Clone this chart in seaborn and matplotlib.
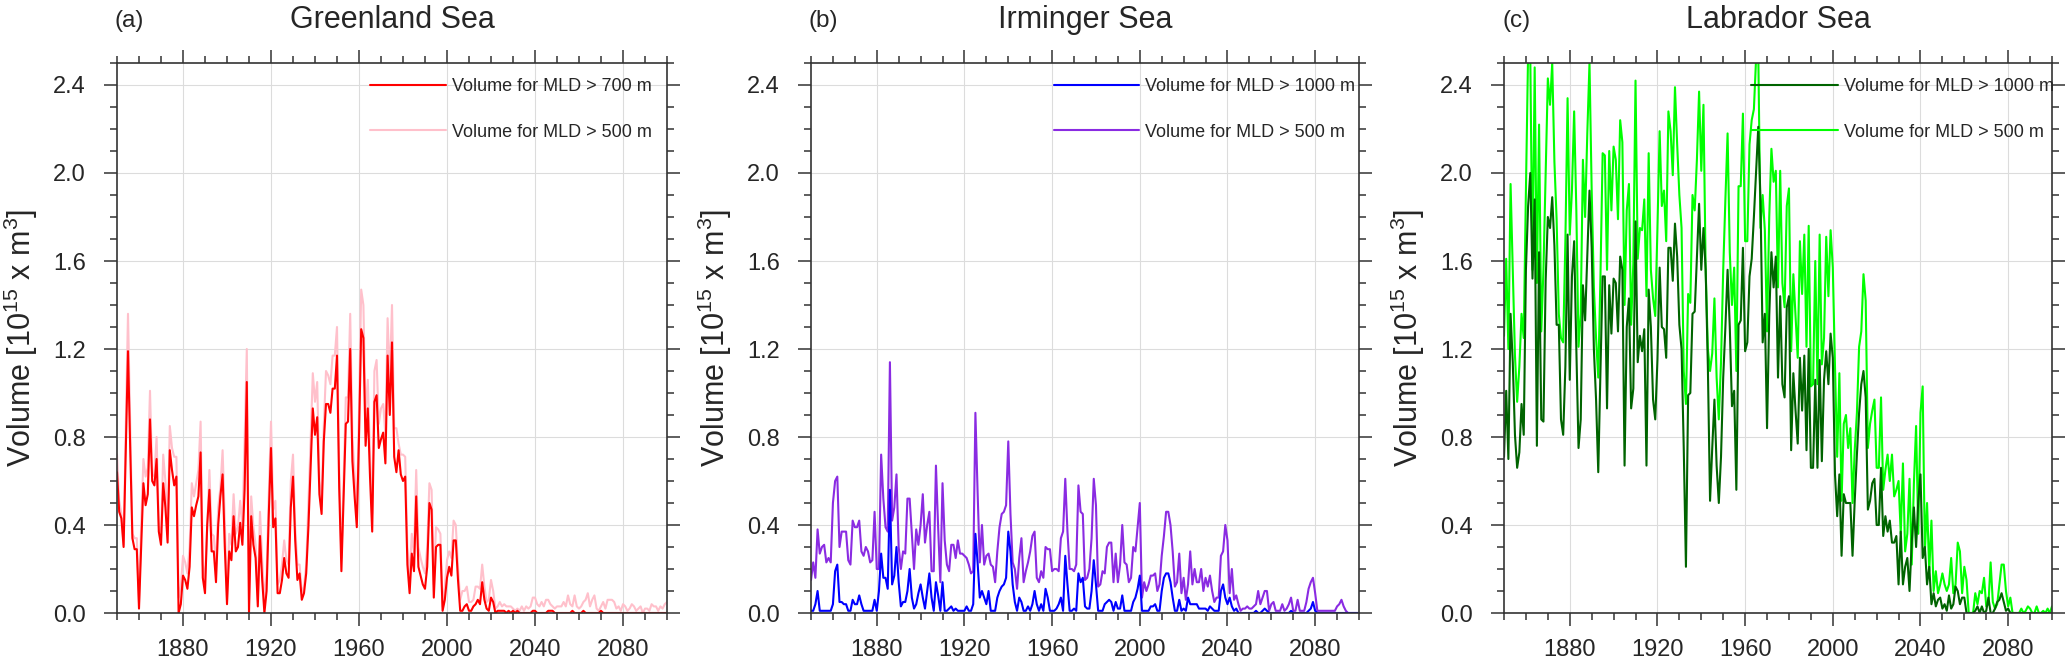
import numpy as np
import matplotlib
matplotlib.use("Agg")
import matplotlib.pyplot as plt
import seaborn as sns
from matplotlib.ticker import MultipleLocator, FormatStrFormatter

years = np.arange(1850, 2101)

# Greenland Sea, volume for MLD > 700 m and > 500 m (10^15 m^3)
greenland_700 = [
    0.64, 0.46, 0.43, 0.30, 0.75, 1.19, 0.75, 0.34, 0.29, 0.29,
    0.02, 0.30, 0.59, 0.49, 0.54, 0.88, 0.60, 0.58, 0.70, 0.37,
    0.31, 0.59, 0.48, 0.32, 0.74, 0.65, 0.58, 0.62, 0.00, 0.04,
    0.17, 0.15, 0.11, 0.21, 0.48, 0.44, 0.49, 0.53, 0.73, 0.16,
    0.09, 0.40, 0.56, 0.28, 0.28, 0.14, 0.40, 0.53, 0.63, 0.30,
    0.04, 0.28, 0.24, 0.44, 0.28, 0.30, 0.41, 0.31, 0.56, 1.05,
    0.00, 0.44, 0.31, 0.25, 0.03, 0.35, 0.15, 0.00, 0.10, 0.45,
    0.75, 0.39, 0.43, 0.09, 0.09, 0.15, 0.25, 0.18, 0.16, 0.48,
    0.62, 0.33, 0.15, 0.18, 0.06, 0.09, 0.18, 0.39, 0.66, 0.93,
    0.81, 0.89, 0.54, 0.45, 0.78, 0.95, 0.95, 0.91, 1.02, 1.02,
    1.17, 0.57, 0.19, 0.53, 0.86, 0.87, 1.20, 0.69, 0.53, 0.39,
    0.80, 1.29, 1.25, 0.76, 0.93, 0.62, 0.37, 0.96, 0.99, 0.75,
    0.79, 0.82, 0.68, 1.17, 0.90, 1.23, 0.71, 0.64, 0.74, 0.63,
    0.60, 0.62, 0.22, 0.09, 0.27, 0.19, 0.53, 0.21, 0.17, 0.13,
    0.11, 0.21, 0.50, 0.47, 0.07, 0.30, 0.31, 0.31, 0.01, 0.06,
    0.16, 0.21, 0.17, 0.33, 0.33, 0.15, 0.01, 0.01, 0.03, 0.04,
    0.01, 0.01, 0.03, 0.04, 0.06, 0.04, 0.14, 0.06, 0.02, 0.01,
    0.07, 0.05, 0.00, 0.01, 0.01, 0.01, 0.01, 0.00, 0.01, 0.00,
    0.01, 0.00, 0.01, 0.00, 0.00, 0.00, 0.00, 0.00, 0.00, 0.01,
    0.01, 0.00, 0.00, 0.00, 0.00, 0.00, 0.01, 0.01, 0.01, 0.00,
    0.00, 0.00, 0.00, 0.00, 0.00, 0.00, 0.00, 0.01, 0.00, 0.00,
    0.00, 0.00, 0.01, 0.00, 0.00, 0.00, 0.00, 0.00, 0.00, 0.00,
    0.01, 0.00, 0.00, 0.00, 0.00, 0.00, 0.00, 0.00, 0.00, 0.00,
    0.00, 0.00, 0.00, 0.00, 0.00, 0.00, 0.00, 0.00, 0.00, 0.00,
    0.00, 0.00, 0.00, 0.00, 0.00, 0.00, 0.00, 0.00, 0.00, 0.00,
    0.00,
]
greenland_500 = [
    0.72, 0.51, 0.45, 0.31, 0.85, 1.36, 0.85, 0.36, 0.34, 0.34,
    0.05, 0.40, 0.70, 0.62, 0.66, 1.01, 0.62, 0.63, 0.80, 0.40,
    0.34, 0.72, 0.60, 0.36, 0.85, 0.75, 0.71, 0.71, 0.07, 0.12,
    0.26, 0.23, 0.18, 0.30, 0.59, 0.53, 0.59, 0.65, 0.87, 0.22,
    0.15, 0.39, 0.65, 0.36, 0.35, 0.21, 0.48, 0.57, 0.74, 0.42,
    0.06, 0.36, 0.31, 0.54, 0.36, 0.39, 0.51, 0.39, 0.78, 1.20,
    0.06, 0.53, 0.39, 0.31, 0.06, 0.46, 0.24, 0.06, 0.18, 0.54,
    0.87, 0.47, 0.51, 0.13, 0.15, 0.22, 0.33, 0.24, 0.22, 0.60,
    0.72, 0.39, 0.22, 0.22, 0.09, 0.12, 0.22, 0.50, 0.78, 1.09,
    0.96, 1.05, 0.60, 0.51, 0.85, 1.10, 1.08, 1.04, 1.17, 1.17,
    1.30, 0.65, 0.25, 0.60, 0.98, 0.98, 1.36, 0.80, 0.63, 0.45,
    0.92, 1.47, 1.40, 0.90, 1.06, 0.72, 0.45, 1.10, 1.15, 0.86,
    0.93, 0.95, 0.81, 1.34, 1.06, 1.40, 0.84, 0.84, 0.77, 0.72,
    0.72, 0.71, 0.30, 0.16, 0.36, 0.27, 0.65, 0.30, 0.25, 0.21,
    0.18, 0.30, 0.59, 0.56, 0.13, 0.39, 0.38, 0.36, 0.03, 0.12,
    0.24, 0.28, 0.25, 0.42, 0.40, 0.21, 0.06, 0.10, 0.10, 0.12,
    0.05, 0.05, 0.06, 0.12, 0.12, 0.11, 0.22, 0.12, 0.05, 0.06,
    0.15, 0.10, 0.02, 0.03, 0.05, 0.03, 0.04, 0.03, 0.03, 0.03,
    0.02, 0.01, 0.02, 0.01, 0.03, 0.01, 0.03, 0.02, 0.03, 0.07,
    0.07, 0.04, 0.03, 0.05, 0.03, 0.06, 0.06, 0.04, 0.03, 0.02,
    0.03, 0.03, 0.03, 0.05, 0.03, 0.08, 0.04, 0.03, 0.08, 0.03,
    0.02, 0.03, 0.05, 0.06, 0.09, 0.03, 0.06, 0.08, 0.02, 0.01,
    0.03, 0.05, 0.02, 0.06, 0.06, 0.06, 0.05, 0.02, 0.03, 0.01,
    0.04, 0.03, 0.01, 0.02, 0.04, 0.03, 0.01, 0.02, 0.03, 0.00,
    0.02, 0.02, 0.01, 0.04, 0.03, 0.03, 0.01, 0.03, 0.02, 0.04,
    0.05,
]

# Irminger Sea, MLD > 1000 m and > 500 m
irminger_1000 = [
    0.01, 0.01, 0.04, 0.10, 0.01, 0.01, 0.01, 0.01, 0.01, 0.01,
    0.04, 0.19, 0.22, 0.05, 0.05, 0.04, 0.04, 0.01, 0.01, 0.06,
    0.04, 0.04, 0.08, 0.04, 0.01, 0.01, 0.01, 0.01, 0.01, 0.06,
    0.01, 0.10, 0.27, 0.16, 0.16, 0.11, 0.56, 0.13, 0.17, 0.30,
    0.14, 0.03, 0.05, 0.05, 0.10, 0.20, 0.07, 0.02, 0.04, 0.09,
    0.13, 0.07, 0.02, 0.10, 0.18, 0.07, 0.01, 0.14, 0.08, 0.01,
    0.14, 0.01, 0.01, 0.02, 0.03, 0.01, 0.02, 0.01, 0.01, 0.01,
    0.01, 0.03, 0.01, 0.01, 0.04, 0.36, 0.23, 0.07, 0.10, 0.07,
    0.04, 0.10, 0.01, 0.01, 0.01, 0.07, 0.10, 0.12, 0.13, 0.16,
    0.37, 0.28, 0.13, 0.05, 0.01, 0.07, 0.05, 0.01, 0.01, 0.03,
    0.01, 0.04, 0.10, 0.04, 0.01, 0.04, 0.01, 0.11, 0.07, 0.01,
    0.01, 0.01, 0.02, 0.04, 0.07, 0.01, 0.26, 0.13, 0.01, 0.01,
    0.02, 0.01, 0.18, 0.14, 0.16, 0.03, 0.02, 0.02, 0.10, 0.24,
    0.13, 0.01, 0.01, 0.01, 0.04, 0.05, 0.06, 0.05, 0.01, 0.05,
    0.02, 0.02, 0.08, 0.01, 0.01, 0.01, 0.01, 0.05, 0.07, 0.11,
    0.17, 0.01, 0.01, 0.01, 0.01, 0.03, 0.03, 0.04, 0.01, 0.01,
    0.10, 0.16, 0.18, 0.18, 0.14, 0.07, 0.01, 0.01, 0.06, 0.01,
    0.02, 0.01, 0.07, 0.04, 0.04, 0.04, 0.04, 0.02, 0.02, 0.02,
    0.02, 0.01, 0.03, 0.02, 0.01, 0.01, 0.01, 0.10, 0.13, 0.07,
    0.04, 0.07, 0.03, 0.01, 0.02, 0.00, 0.00, 0.00, 0.00, 0.00,
    0.00, 0.00, 0.00, 0.01, 0.00, 0.00, 0.01, 0.02, 0.01, 0.00,
    0.00, 0.00, 0.00, 0.00, 0.00, 0.00, 0.00, 0.00, 0.00, 0.01,
    0.00, 0.00, 0.00, 0.00, 0.00, 0.00, 0.00, 0.01, 0.02, 0.05,
    0.01, 0.00, 0.00, 0.00, 0.00, 0.00, 0.00, 0.00, 0.00, 0.00,
    0.00, 0.00, 0.00, 0.00, 0.00, 0.00, 0.00, 0.00, 0.00, 0.00,
    0.00,
]
irminger_500 = [
    0.15, 0.23, 0.16, 0.38, 0.27, 0.30, 0.31, 0.23, 0.25, 0.23,
    0.50, 0.60, 0.62, 0.30, 0.37, 0.37, 0.37, 0.24, 0.22, 0.42,
    0.39, 0.39, 0.42, 0.28, 0.26, 0.30, 0.28, 0.23, 0.24, 0.46,
    0.20, 0.20, 0.72, 0.52, 0.39, 0.37, 1.14, 0.42, 0.48, 0.63,
    0.30, 0.20, 0.28, 0.27, 0.52, 0.52, 0.36, 0.20, 0.38, 0.31,
    0.40, 0.54, 0.32, 0.40, 0.46, 0.19, 0.19, 0.67, 0.39, 0.14,
    0.59, 0.33, 0.22, 0.19, 0.31, 0.31, 0.25, 0.33, 0.27, 0.27,
    0.26, 0.25, 0.22, 0.18, 0.19, 0.91, 0.55, 0.23, 0.40, 0.22,
    0.26, 0.27, 0.22, 0.21, 0.14, 0.28, 0.39, 0.45, 0.46, 0.49,
    0.78, 0.45, 0.23, 0.20, 0.11, 0.25, 0.34, 0.14, 0.19, 0.23,
    0.28, 0.35, 0.37, 0.16, 0.14, 0.19, 0.16, 0.30, 0.29, 0.29,
    0.19, 0.20, 0.20, 0.19, 0.34, 0.37, 0.61, 0.37, 0.20, 0.20,
    0.19, 0.22, 0.58, 0.46, 0.45, 0.15, 0.16, 0.20, 0.34, 0.61,
    0.49, 0.12, 0.13, 0.19, 0.18, 0.30, 0.32, 0.32, 0.14, 0.27,
    0.14, 0.22, 0.40, 0.23, 0.22, 0.14, 0.16, 0.30, 0.28, 0.39,
    0.50, 0.07, 0.14, 0.10, 0.13, 0.17, 0.17, 0.18, 0.10, 0.13,
    0.26, 0.35, 0.46, 0.46, 0.40, 0.28, 0.12, 0.14, 0.27, 0.09,
    0.16, 0.06, 0.13, 0.28, 0.13, 0.20, 0.14, 0.14, 0.20, 0.10,
    0.16, 0.12, 0.17, 0.10, 0.05, 0.07, 0.07, 0.26, 0.28, 0.40,
    0.33, 0.09, 0.20, 0.06, 0.08, 0.04, 0.01, 0.02, 0.02, 0.03,
    0.02, 0.02, 0.03, 0.04, 0.10, 0.04, 0.07, 0.10, 0.10, 0.01,
    0.04, 0.05, 0.01, 0.01, 0.01, 0.04, 0.01, 0.02, 0.04, 0.07,
    0.01, 0.01, 0.06, 0.01, 0.01, 0.01, 0.05, 0.11, 0.14, 0.16,
    0.09, 0.01, 0.01, 0.01, 0.01, 0.01, 0.01, 0.01, 0.01, 0.01,
    0.03, 0.04, 0.06, 0.03, 0.01, 0.00, 0.00, 0.00, 0.00, 0.00,
    0.00,
]

# Labrador Sea, MLD > 1000 m and > 500 m
labrador_1000 = [
    0.71, 1.01, 0.70, 1.36, 1.14, 0.81, 0.66, 0.73, 0.95, 0.81,
    1.56, 1.85, 2.00, 1.52, 1.88, 0.76, 1.64, 0.88, 0.87, 1.51,
    1.80, 1.75, 1.89, 1.67, 1.31, 1.31, 0.88, 0.81, 1.12, 1.72,
    1.06, 1.53, 1.69, 1.20, 0.75, 0.88, 1.49, 1.33, 1.62, 1.92,
    1.66, 1.20, 0.97, 0.64, 1.10, 1.53, 1.53, 0.93, 1.49, 1.27,
    1.52, 1.50, 1.28, 1.62, 1.56, 0.67, 1.30, 1.43, 0.93, 1.02,
    1.78, 1.14, 1.26, 1.19, 1.29, 0.67, 1.47, 1.30, 0.97, 0.88,
    1.15, 1.57, 1.30, 1.29, 1.16, 1.66, 1.66, 1.51, 1.77, 1.62,
    1.31, 1.20, 0.75, 0.21, 0.99, 1.00, 1.36, 1.37, 1.62, 1.86,
    1.56, 1.75, 1.56, 1.12, 0.51, 0.75, 0.97, 0.67, 0.50, 0.71,
    1.07, 1.30, 1.56, 1.30, 0.94, 1.01, 0.56, 1.31, 1.33, 1.66,
    1.19, 1.23, 1.53, 1.61, 1.80, 2.00, 2.21, 1.88, 1.23, 1.36,
    0.84, 1.35, 1.64, 1.48, 1.62, 1.07, 1.44, 1.04, 0.98, 1.39,
    1.44, 0.74, 1.09, 0.92, 0.77, 1.16, 0.92, 1.17, 0.74, 1.20,
    0.66, 0.66, 1.06, 0.66, 1.15, 0.69, 1.06, 1.19, 1.04, 1.27,
    1.16, 0.63, 0.44, 0.63, 0.26, 0.54, 0.50, 0.50, 0.50, 0.26,
    0.51, 0.72, 0.91, 1.04, 1.10, 0.98, 0.47, 0.51, 0.59, 0.61,
    0.40, 0.40, 0.66, 0.35, 0.44, 0.37, 0.42, 0.32, 0.32, 0.35,
    0.13, 0.37, 0.13, 0.21, 0.25, 0.10, 0.32, 0.48, 0.30, 0.51,
    0.63, 0.25, 0.30, 0.13, 0.21, 0.04, 0.09, 0.03, 0.06, 0.07,
    0.02, 0.04, 0.01, 0.08, 0.02, 0.04, 0.12, 0.10, 0.04, 0.07,
    0.07, 0.00, 0.00, 0.00, 0.00, 0.01, 0.03, 0.00, 0.03, 0.00,
    0.01, 0.07, 0.00, 0.00, 0.02, 0.05, 0.06, 0.09, 0.05, 0.01,
    0.02, 0.00, 0.00, 0.00, 0.00, 0.00, 0.00, 0.00, 0.00, 0.00,
    0.00, 0.00, 0.00, 0.00, 0.00, 0.00, 0.00, 0.00, 0.00, 0.00,
    0.00,
]
labrador_500 = [
    1.26, 1.61, 1.20, 1.95, 1.56, 1.17, 0.96, 1.12, 1.36, 1.25,
    1.92, 2.55, 2.52, 1.56, 2.48, 1.50, 2.22, 1.28, 1.56, 2.00,
    2.43, 2.31, 2.50, 2.05, 1.79, 1.36, 1.25, 1.23, 1.69, 2.34,
    1.72, 1.92, 2.28, 1.83, 1.21, 1.36, 2.06, 1.80, 2.18, 2.50,
    1.92, 1.48, 1.25, 1.07, 1.53, 2.09, 2.08, 1.56, 2.10, 1.83,
    2.12, 2.06, 1.79, 2.24, 2.14, 1.40, 1.83, 1.95, 1.31, 1.59,
    2.42, 1.61, 1.75, 1.74, 1.88, 1.44, 2.09, 1.56, 1.43, 1.35,
    1.75, 2.19, 1.85, 1.92, 1.69, 2.28, 2.19, 1.99, 2.39, 2.13,
    1.90, 1.75, 1.10, 0.95, 1.45, 1.41, 1.90, 1.83, 2.06, 2.37,
    2.01, 2.31, 1.56, 1.20, 1.10, 1.18, 1.43, 1.07, 0.88, 1.14,
    1.56, 1.88, 2.18, 1.64, 1.40, 1.57, 1.10, 1.94, 1.94, 2.27,
    1.69, 1.69, 2.13, 2.24, 2.29, 2.52, 2.55, 1.75, 1.90, 1.74,
    1.28, 1.80, 2.11, 1.96, 2.01, 1.48, 2.01, 1.50, 1.39, 1.85,
    1.93, 1.19, 1.54, 1.35, 1.16, 1.69, 1.45, 1.72, 1.21, 1.76,
    1.03, 1.04, 1.60, 1.04, 1.72, 1.13, 1.25, 1.71, 1.44, 1.74,
    1.57, 1.12, 0.71, 1.09, 0.51, 0.86, 0.90, 0.75, 0.84, 0.50,
    0.74, 0.91, 1.21, 1.28, 1.54, 1.42, 0.75, 0.86, 0.92, 0.97,
    0.66, 0.66, 0.98, 0.56, 0.65, 0.72, 0.60, 0.72, 0.53, 0.56,
    0.60, 0.36, 0.68, 0.28, 0.36, 0.61, 0.22, 0.59, 0.85, 0.36,
    0.91, 1.03, 0.28, 0.50, 0.19, 0.42, 0.10, 0.19, 0.09, 0.13,
    0.18, 0.13, 0.10, 0.13, 0.25, 0.09, 0.13, 0.32, 0.28, 0.09,
    0.21, 0.15, 0.00, 0.00, 0.00, 0.09, 0.04, 0.10, 0.09, 0.16,
    0.03, 0.04, 0.23, 0.05, 0.02, 0.04, 0.13, 0.22, 0.22, 0.10,
    0.03, 0.07, 0.00, 0.00, 0.00, 0.00, 0.02, 0.00, 0.01, 0.03,
    0.02, 0.00, 0.00, 0.03, 0.00, 0.00, 0.01, 0.00, 0.02, 0.00,
    0.03,
]

titles = ["Greenland Sea", "Irminger Sea", "Labrador Sea"]
tags = ["(a)", "(b)", "(c)"]
deep_labels = ["Volume for MLD > 700 m", "Volume for MLD > 1000 m", "Volume for MLD > 1000 m"]
shallow_label = "Volume for MLD > 500 m"
deep_series = [greenland_700, irminger_1000, labrador_1000]
shallow_series = [greenland_500, irminger_500, labrador_500]
deep_colors = ["#ff0000", "#0000ff", "#006400"]
shallow_colors = ["#ffc0cb", "#8a2be2", "#00ff00"]

sns.set_theme(style="ticks")
plt.rcParams["font.family"] = ["Liberation Sans", "DejaVu Sans"]
plt.rcParams["mathtext.default"] = "regular"

W, H = 2067, 663
fig = plt.figure(figsize=(W / 100, H / 100), dpi=100)

# axes frames in pixels: left, right
frames = [(117, 667), (811, 1359), (1504, 2052)]
ax_top, ax_bot = 63, 613
legend_x = [0.46, 0.443, 0.451]
handle_len = [4.2, 4.7, 4.8]

for i in range(3):
    l, r = frames[i]
    ax = fig.add_axes([l / W, 1 - ax_bot / H, (r - l) / W, (ax_bot - ax_top) / H])
    ax.grid(True, which="major", color="#dcdcdc", linewidth=0.8)
    ax.set_axisbelow(True)

    sns.lineplot(x=years, y=shallow_series[i], ax=ax, color=shallow_colors[i],
                 linewidth=1.5, label=shallow_label)
    sns.lineplot(x=years, y=deep_series[i], ax=ax, color=deep_colors[i],
                 linewidth=1.5, label=deep_labels[i])

    ax.set_xlim(1850, 2100)
    ax.set_ylim(0, 2.5)
    ax.xaxis.set_major_locator(MultipleLocator(40))
    ax.xaxis.set_minor_locator(MultipleLocator(10))
    ax.yaxis.set_major_locator(MultipleLocator(0.4))
    ax.yaxis.set_minor_locator(MultipleLocator(0.1))
    ax.yaxis.set_major_formatter(FormatStrFormatter("%.1f"))
    ax.tick_params(which="both", direction="out", top=True, right=True,
                   labeltop=False, labelright=False, color="#333333", width=1.1)
    ax.tick_params(which="major", length=9.4, labelsize=17)
    ax.tick_params(which="minor", length=4.7)
    ax.tick_params(axis="x", which="major", pad=9.5)
    ax.tick_params(axis="y", which="major", pad=13)
    for sp in ax.spines.values():
        sp.set_linewidth(1.2)
        sp.set_color("#333333")
    ax.set_xlabel("")
    ax.set_ylabel("")

    handles, labels = ax.get_legend_handles_labels()
    ax.legend(handles[::-1], labels[::-1], loc="upper left",
              bbox_to_anchor=(legend_x[i], 0.973), borderaxespad=0, borderpad=0,
              frameon=False, fontsize=13, handlelength=handle_len[i],
              handletextpad=0.35, labelspacing=1.6)

    w = r - l
    ax.text(-96 / w, 0.5, "Volume [10$^{15}$ x m$^{3}$]", transform=ax.transAxes,
            rotation=90, ha="center", va="center", fontsize=22)
    fig.text((l + r) / 2 / W, 1 - 28 / H, titles[i], ha="center", va="baseline",
             fontsize=22)
    fig.text((l - 2) / W, 1 - 27 / H, tags[i], ha="left", va="baseline", fontsize=17.5)

fig.savefig("out.png", dpi=100)
